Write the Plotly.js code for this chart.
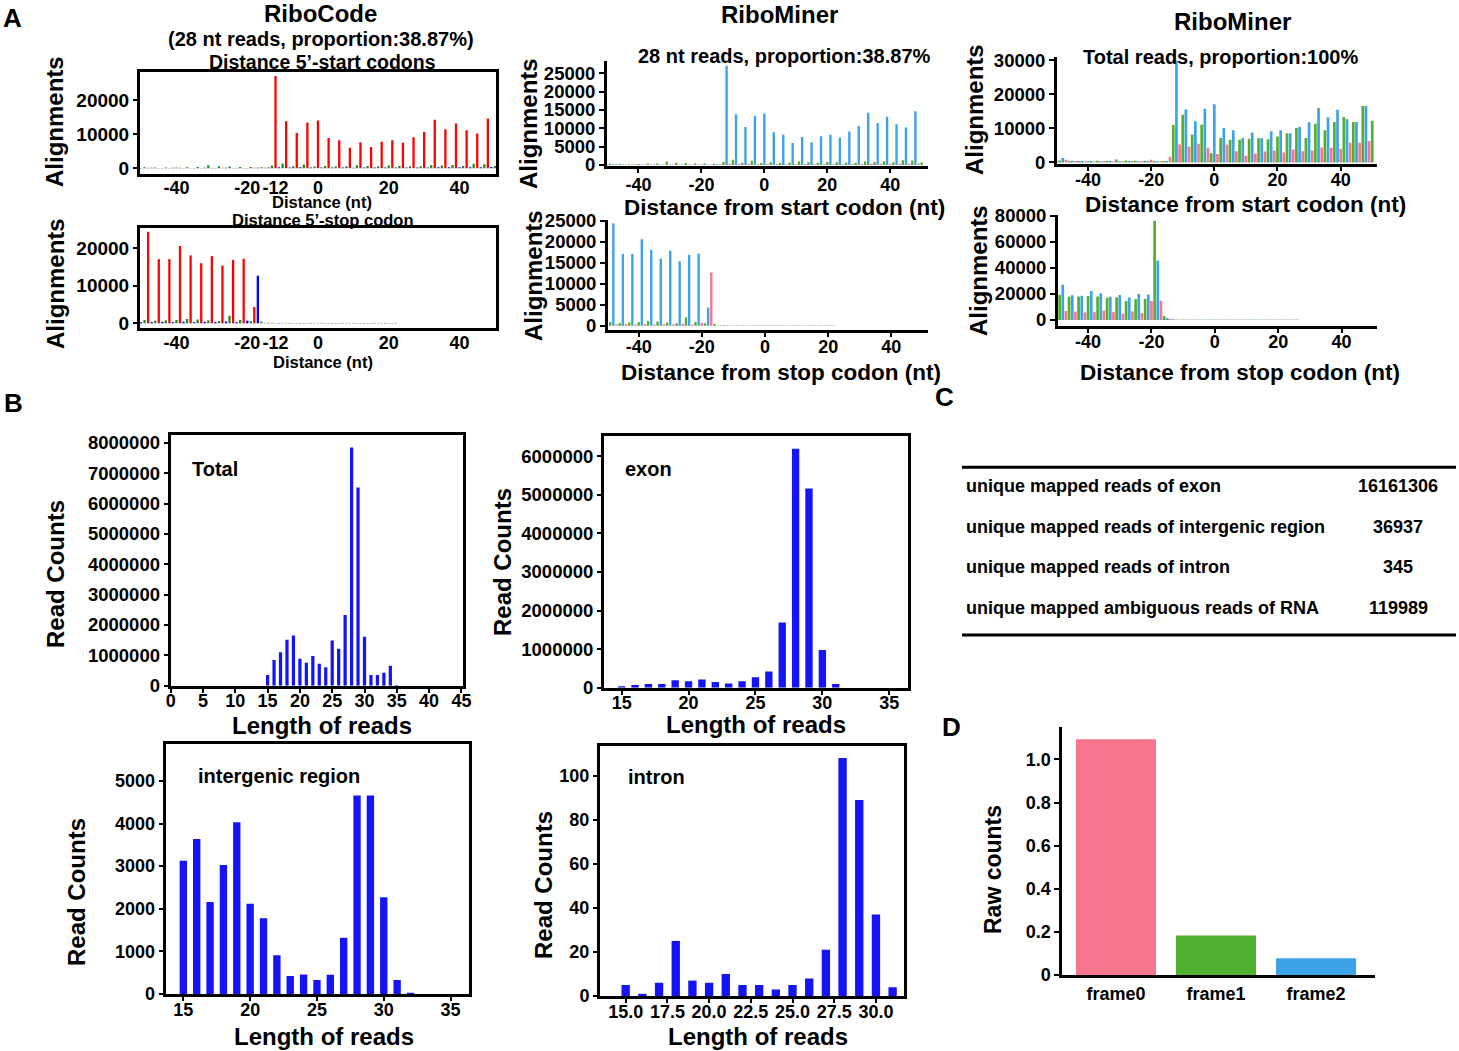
<!DOCTYPE html>
<html><head><meta charset="utf-8">
<script src="https://cdn.plot.ly/plotly-3.0.1.min.js"></script>
<style>html,body{margin:0;padding:0;background:#fff}#chart{width:1459px;height:1051px}</style>
</head><body><div id="chart"></div>
<script>
// ---------- DATA ----------
// codon positions (nt) for each reading frame
function seq3(a, b) { const r = []; for (let v = a; v <= b; v += 3) r.push(v); return r; }
const posFrame0 = seq3(-48, 48);
const posFrame1 = seq3(-50, 49);
const posFrame2 = seq3(-49, 50);

// 28 nt reads, distance from start codon (frame0 / frame1 / frame2)
const nt28StartF0 = [150,120,100,130,110,120,100,140,120,110,130,150,27000,13800,10300,13400,14000,8900,8200,6000,7600,6200,7800,8200,7500,9100,10600,14200,11400,13100,11100,10200,14600];
const nt28StartF1 = [120,150,100,130,120,100,140,110,130,120,100,130,200,300,250,280,220,260,240,200,180,220,200,230,210,250,240,260,300,280,320,300,280,350];
const nt28StartF2 = [300,250,200,250,300,350,900,600,500,400,350,300,800,1400,600,1100,500,700,500,600,900,700,600,800,700,600,600,900,800,1000,700,1300,1200,700];

// 28 nt reads, distance from stop codon
const nt28StopF0 = [24400,17100,17100,20600,18100,16000,17900,15400,16900,17200,4350,100,100,100,100,100,100,100,100,100,100,100,100,100,0,0,0,0,0,0,0,0,0];
const nt28StopF1 = [300,350,400,300,450,300,400,350,500,300,700,12700,150,100,100,100,100,100,100,100,100,100,100,100,100,0,0,0,0,0,0,0,0,0];
const nt28StopF2 = [900,700,800,900,1150,1000,800,600,2000,900,600,450,150,100,100,100,100,100,100,100,100,100,100,100,0,0,0,0,0,0,0,0,0,0];

// total reads, distance from start codon
const totalStartF0 = [1300,500,400,400,350,400,350,400,350,400,350,400,29900,15600,12100,15800,17100,10100,9500,7200,8800,7100,9200,9500,8600,10500,11800,16000,13300,15500,12700,11900,16600];
const totalStartF1 = [400,800,400,350,300,350,300,350,400,350,800,350,1700,5300,4700,5500,4300,2500,5300,3300,2000,2600,3200,3500,2900,3800,3300,3500,4400,4300,4000,5800,5800,6300];
const totalStartF2 = [600,500,400,350,500,400,900,600,500,500,400,400,11000,14000,8200,11100,2700,7200,6700,6700,7000,7100,6800,7600,8600,10100,7200,11400,9500,11900,13400,11900,16600,12300];

// total reads, distance from stop codon
const totalStopF0 = [27100,19000,18600,22300,20500,17800,19200,17300,20000,19500,45500,1500,300,300,300,300,300,300,300,300,300,300,300,300,300,0,0,0,0,0,0,0,0];
const totalStopF1 = [0,6900,6500,5800,6000,7200,6000,4800,6600,5300,14600,14800,800,300,300,300,300,300,300,300,300,300,300,300,300,300,0,0,0,0,0,0,0,0];
const totalStopF2 = [19300,17900,18000,18400,18000,17000,17300,14600,16000,16300,76000,3000,500,300,300,300,300,300,300,300,300,300,300,300,300,300,0,0,0,0,0,0,0,0];

// read length distributions
const lengthsTotal = [15,16,17,18,19,20,21,22,23,24,25,26,27,28,29,30,31,32,33,34,35];
const totalCounts = [350000,850000,1100000,1510000,1650000,890000,760000,980000,720000,610000,1490000,1220000,2330000,7850000,6530000,1610000,350000,350000,430000,660000,20000];
const lengthsExon = [15,16,17,18,19,20,21,22,23,24,25,26,27,28,29,30,31];
const exonCounts = [40000,70000,95000,95000,190000,165000,210000,150000,110000,165000,270000,420000,1690000,6190000,5160000,980000,95000];
const lengthsIntergenic = [15,16,17,18,19,20,21,22,23,24,25,26,27,28,29,30,31,32];
const intergenicCounts = [3130,3640,2160,3030,4030,2120,1780,910,420,460,330,450,1320,4660,4660,2270,330,30];
const lengthsIntron = [15,16,17,18,19,20,21,22,23,24,25,26,27,28,29,30,31];
const intronCounts = [5,1,6,25,7,6,10,5,5,3,5,8,21,108,89,37,4];

// tick labels
const codeTickVals = [-40, -20, -12, 0, 20, 40];
const codeTickText = ['-40', '-20', '-12', '0', '20', '40'];
const minerTickVals = [-40, -20, 0, 20, 40];
const minerTickText = ['-40', '-20', '0', '20', '40'];

// panel C table
const tableLabels = ['unique mapped reads of exon','unique mapped reads of intergenic region','unique mapped reads of intron','unique mapped ambiguous reads of RNA'];
const tableValues = ['16161306','36937','345','119989'];

// panel D
const frameLabels = ['frame0','frame1','frame2'];
const frameCounts = [1.094, 0.183, 0.0775];

// ---------- STYLE ----------
const W = 1459, H = 1051;
const F = 'Liberation Sans, Arial, Helvetica, sans-serif';
const codeCols = ['#FF0000', '#0000FF', '#228B22'];
const minerCols = ['#3DA2E8', '#F7768D', '#52B030'];
const frameBarCols = ['#F7768D', '#52B030', '#3DA2E8'];
const readBlue = '#1414F5';

function xd(l, r) { return [l / W, r / W]; }
function yd(t, b) { return [1 - b / H, 1 - t / H]; }

const traces = [];
function frameTraces(n, f0, f1, f2, cols, w) {
  [[posFrame0, f0, cols[0]], [posFrame1, f1, cols[1]], [posFrame2, f2, cols[2]]].forEach(([x, y, c]) => {
    traces.push({type: 'bar', x: x, y: y, xaxis: 'x' + n, yaxis: 'y' + n,
      marker: {color: c, line: {width: 0}}, width: w, hoverinfo: 'skip', showlegend: false});
  });
}
function lenTrace(n, x, y, w) {
  traces.push({type: 'bar', x: x, y: y, xaxis: 'x' + n, yaxis: 'y' + n,
    marker: {color: readBlue, line: {width: 0}}, width: w, hoverinfo: 'skip', showlegend: false});
}

frameTraces(1, nt28StartF0, nt28StartF1, nt28StartF2, codeCols, 0.65);
frameTraces(2, nt28StopF0, nt28StopF1, nt28StopF2, codeCols, 0.65);
frameTraces(3, nt28StartF0, nt28StartF1, nt28StartF2, minerCols, 0.75);
frameTraces(4, nt28StopF0, nt28StopF1, nt28StopF2, minerCols, 0.75);
frameTraces(5, totalStartF0, totalStartF1, totalStartF2, minerCols, 0.85);
frameTraces(6, totalStopF0, totalStopF1, totalStopF2, minerCols, 0.85);
lenTrace(7, lengthsTotal, totalCounts, 0.5);
lenTrace(8, lengthsExon, exonCounts, 0.55);
lenTrace(9, lengthsIntergenic, intergenicCounts, 0.55);
lenTrace(10, lengthsIntron, intronCounts, 0.5);
traces.push({type: 'bar', x: frameLabels, y: frameCounts, xaxis: 'x11', yaxis: 'y11',
  marker: {color: frameBarCols, line: {width: 0}}, width: 0.8, hoverinfo: 'skip', showlegend: false});

const layout = {width: W, height: H, margin: {l: 0, r: 0, t: 0, b: 0}, paper_bgcolor: '#fff', plot_bgcolor: 'rgba(0,0,0,0)',
  barmode: 'overlay', showlegend: false, font: {family: F, color: '#000'}, annotations: [], shapes: []};

function tf(size) { return {family: F, size: size, color: '#000', weight: 'bold'}; }
const base = {showgrid: false, zeroline: false, showline: true, linecolor: '#000', linewidth: 3,
  ticks: 'outside', ticklen: 5, tickwidth: 2, tickcolor: '#000', fixedrange: true, tickangle: 0};

function axes(n, dx, dy, xr, yr, xo, yo, mirror) {
  layout['xaxis' + n] = Object.assign({}, base, {domain: dx, range: xr, anchor: 'y' + n, mirror: mirror, tickfont: tf(18)}, xo);
  layout['yaxis' + n] = Object.assign({}, base, {domain: dy, range: yr, anchor: 'x' + n, mirror: mirror, tickfont: tf(18), tickformat: 'd'}, yo);
}

function codeX(so) { return {tickmode: 'array', tickvals: codeTickVals, ticktext: codeTickText, ticks: '', ticklabelstandoff: so}; }
function minerX(so) { return {tickmode: 'array', tickvals: minerTickVals, ticktext: minerTickText, ticklen: 4, ticklabelstandoff: so}; }
axes(1, xd(140, 496), yd(72, 173.5), [-50.3, 50.3], [-1520, 28180], codeX(-4), {tickvals: [0, 10000, 20000], ticklen: 4, tickfont: tf(19)}, true);
axes(2, xd(140, 496), yd(228, 328), [-50.3, 50.3], [-1250, 25400], codeX(-4), {tickvals: [0, 10000, 20000], ticklen: 4, tickfont: tf(19)}, true);
axes(3, xd(607, 928), yd(60.7, 166), [-50, 52], [-300, 28400], minerX(-4), {tickvals: [0, 5000, 10000, 15000, 20000, 25000], tickfont: tf(18.5)}, false);
axes(4, xd(608, 928), yd(220, 330), [-49.7, 51.6], [-1000, 25200], minerX(-6), {tickvals: [0, 5000, 10000, 15000, 20000, 25000], tickfont: tf(18.5)}, false);
axes(5, xd(1057, 1377), yd(57, 163.5), [-49.8, 51.5], [-300, 31000], minerX(-6), {tickvals: [0, 10000, 20000, 30000], tickfont: tf(18.5)}, false);
axes(6, xd(1058, 1377), yd(215, 326), [-49.5, 51.2], [-4600, 80500], minerX(-7), {tickvals: [0, 20000, 40000, 60000, 80000], tickfont: tf(18.5)}, false);

axes(7, xd(170.7, 462.7), yd(435, 685.7), [0, 45.2], [0, 8260000], {tickmode: 'linear', tick0: 0, dtick: 5, ticklen: 4, ticklabelstandoff: -7}, {tickmode: 'linear', tick0: 0, dtick: 1000000, tickfont: tf(18.5), ticklen: 4}, true);
axes(8, xd(604, 908), yd(435.7, 687.7), [13.68, 36.4], [0, 6530000], {tickmode: 'linear', tick0: 15, dtick: 5, ticklen: 4, ticklabelstandoff: -7}, {tickmode: 'linear', tick0: 0, dtick: 1000000, tickfont: tf(18.5), ticklen: 4}, true);
axes(9, xd(165.7, 469.3), yd(744.3, 994), [13.68, 36.4], [0, 5860], {tickmode: 'linear', tick0: 15, dtick: 5, ticklen: 4, ticklabelstandoff: -7}, {tickmode: 'linear', tick0: 0, dtick: 1000, ticklen: 4}, true);
axes(10, xd(600, 904.3), yd(746, 996), [13.46, 31.7], [0, 113.5], {tickmode: 'linear', tick0: 15, dtick: 2.5, tickformat: '.1f', ticklen: 4, ticklabelstandoff: -7}, {tickmode: 'linear', tick0: 0, dtick: 20, ticklen: 4}, true);
axes(11, xd(1062.3, 1375), yd(726.7, 975), [-0.537, 2.59], [0, 1.152], {type: 'category', ticks: ''},
  {tickmode: 'array', tickvals: [0, 0.2, 0.4, 0.6, 0.8, 1.0], ticktext: ['0', '0.2', '0.4', '0.6', '0.8', '1.0'], tickformat: ''}, false);

function ann(text, px, py, size, opt) {
  layout.annotations.push(Object.assign({text: text, x: px / W, y: 1 - py / H, xref: 'paper', yref: 'paper',
    xanchor: 'center', yanchor: 'middle', showarrow: false, font: tf(size)}, opt || {}));
}

// panel letters
ann('A', 12, 18, 26); ann('B', 13, 403, 26); ann('C', 944, 397, 26); ann('D', 951, 727, 26);

// panel A titles
ann('RiboCode', 320, 14, 24);
ann('(28 nt reads, proportion:38.87%)', 321, 39, 20);
ann('Distance 5\u2019-start codons', 322, 62, 19.5);
ann('Distance (nt)', 322, 202, 16.5);
ann('Distance 5\u2019-stop codon', 323, 220, 16.5);
ann('Distance (nt)', 323, 362, 16.5);
ann('RiboMiner', 780, 15, 24);
ann('28 nt reads, proportion:38.87%', 784, 56, 20);
ann('Distance from start codon (nt)', 784, 207, 22.5);
ann('Distance from stop codon (nt)', 781, 372, 22.5);
ann('RiboMiner', 1232, 22, 24);
ann('Total reads, proportion:100%', 1220, 57, 20);
ann('Distance from start codon (nt)', 1245, 204, 22.5);
ann('Distance from stop codon (nt)', 1240, 372, 22.5);
[[54, 122], [55, 284], [528, 124], [533, 276], [974, 110], [978, 271]].forEach(p => ann('Alignments', p[0], p[1], 24, {textangle: -90}));

// panel B labels
[[55, 574], [502, 562], [76, 892], [543, 885]].forEach(p => ann('Read Counts', p[0], p[1], 24, {textangle: -90}));
[[322, 725], [756, 724], [324, 1036], [758, 1036]].forEach(p => ann('Length of reads', p[0], p[1], 24));
ann('Total', 190, 469, 20, {xanchor: 'left'});
ann('exon', 623, 469, 20, {xanchor: 'left'});
ann('intergenic region', 196, 776, 20, {xanchor: 'left'});
ann('intron', 626, 777, 20, {xanchor: 'left'});

// panel C
const rowY = [486, 526.7, 566.7, 608.3];
tableLabels.forEach((t, i) => ann(t, 964, rowY[i], 18, {xanchor: 'left'}));
tableValues.forEach((t, i) => ann(t, 1398, rowY[i], 18));
[467.3, 635].forEach(py => layout.shapes.push({type: 'line', xref: 'paper', yref: 'paper',
  x0: 962 / W, x1: 1456 / W, y0: 1 - py / H, y1: 1 - py / H, line: {color: '#000', width: 3}}));

// panel D
ann('Raw counts', 993, 870, 23, {textangle: -90});

Plotly.newPlot('chart', traces, layout, {staticPlot: true});
</script></body></html>
